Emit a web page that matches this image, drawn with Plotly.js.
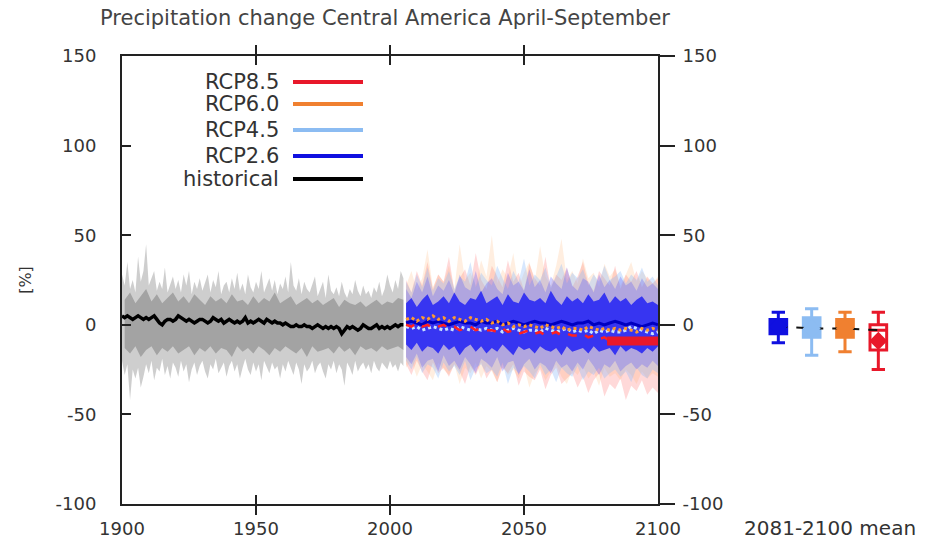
<!DOCTYPE html>
<html><head><meta charset="utf-8">
<script src="https://cdn.plot.ly/plotly-3.0.1.min.js"></script>
<style>html,body{margin:0;padding:0;background:#fff}#chart{width:925px;height:546px}</style>
</head><body><div id="chart"></div>
<script>
// ---------- DATA ----------
const histStart = 1900, histEnd = 2005;
const histMean = [
5,4,5,4,3,4,5,4,3,4,
3,4,5,3,1,0,2,3,3,2,
3,5,4,3,2,3,2,1,2,3,
3,2,1,2,4,3,2,3,1,2,
3,2,1,2,1,2,4,1,2,1,
2,3,2,1,3,2,1,2,1,1,
0,1,0,-1,-1,0,-1,-1,0,-1,
-1,-2,-1,0,-1,-2,-1,-2,-1,-2,
-1,-2,-5,-3,-1,-2,-1,-2,-3,-2,
0,-1,-2,-2,-1,0,-2,-1,-2,-1,
-2,-1,0,-1,0,0];
const histUpper = [
28,22,35,20,25,18,38,24,30,45,
22,26,30,19,24,20,32,18,22,27,
20,25,18,28,22,30,17,24,20,26,
19,23,28,18,25,21,30,17,22,24,
18,26,20,29,19,23,17,28,21,18,
24,20,30,18,22,26,19,25,17,23,
20,27,18,35,22,19,26,17,24,20,
18,22,27,16,20,24,15,28,19,17,
21,16,24,18,15,20,17,25,19,16,
22,17,19,15,21,18,24,16,20,28,
22,18,25,20,30,26];
const histLower = [
-20,-28,-22,-42,-25,-30,-24,-35,-29,-22,
-27,-20,-31,-24,-26,-19,-28,-23,-30,-21,
-24,-29,-20,-26,-22,-32,-25,-21,-28,-23,
-20,-26,-30,-22,-25,-19,-27,-24,-21,-29,
-23,-20,-26,-22,-30,-24,-19,-25,-28,-21,
-26,-22,-31,-20,-24,-27,-21,-25,-23,-30,
-22,-26,-20,-24,-28,-21,-25,-33,-22,-26,
-24,-20,-27,-23,-21,-26,-30,-22,-25,-20,
-27,-22,-25,-34,-21,-24,-28,-20,-26,-23,
-21,-25,-22,-27,-20,-24,-26,-21,-23,-25,
-20,-24,-22,-26,-21,-23];
// inner (dense) historical band, every 2 years 1901-2005
const histInnerUpper = [
14,18,12,16,20,13,17,12,15,18,
13,16,12,17,14,11,16,13,15,12,
17,13,14,11,16,12,15,13,18,12,
14,16,11,13,15,12,14,11,13,15,
10,14,12,11,13,10,12,14,11,13,
12,15,14];
const histInnerLower = [
-13,-16,-12,-18,-14,-12,-17,-13,-15,-12,
-16,-14,-12,-17,-13,-15,-12,-16,-13,-14,
-18,-12,-15,-13,-16,-12,-14,-17,-13,-15,
-12,-14,-16,-13,-18,-12,-15,-14,-13,-16,
-12,-15,-13,-17,-12,-14,-13,-15,-12,-14,
-13,-12,-14];

// scenarios, every 2 years 2006-2100
const rcp85Upper = [25,18,30,22,35,20,28,24, 38,19,26,31,22,40,25,20, 33,27,21,36,24,29,19,34, 26,22,38,20,28,25,32,21, 27,35,23,19,30,26,22,33, 20,28,24,30,21,27,23,26];
const rcp85Lower = [-22,-28,-20,-26,-31,-21,-27,-24, -29,-22,-26,-33,-23,-28,-21,-30, -25,-32,-24,-27,-22,-34,-26,-29, -31,-25,-36,-28,-24,-33,-30,-27, -35,-29,-38,-31,-27,-40,-33,-36, -30,-42,-34,-37,-31,-39,-35,-38];
const rcp60Upper = [22,30,19,26,42,21,28,24, 33,20,45,25,29,22,36,27, 50,23,31,26,40,21,29,35, 24,44,27,22,33,48,25,30, 23,37,26,29,21,34,27,31, 22,28,35,24,30,26,23,27];
const rcp60Lower = [-24,-20,-29,-22,-26,-31,-21,-25, -28,-22,-33,-24,-27,-21,-30,-23, -26,-32,-22,-28,-25,-30,-23,-35, -27,-24,-31,-26,-22,-29,-33,-25, -28,-23,-30,-26,-34,-24,-29,-27, -31,-25,-28,-33,-26,-30,-27,-29];
const rcp45Upper = [24,18,28,21,32,19,26,23, 30,20,27,24,35,21,29,25, 22,33,26,20,30,24,37,22, 28,25,32,21,27,34,23,29, 26,31,22,28,24,33,25,27, 30,23,28,25,32,24,27,22];
const rcp45Lower = [-20,-25,-18,-27,-22,-24,-30,-21, -26,-23,-28,-20,-31,-24,-22,-27, -25,-29,-21,-33,-24,-27,-23,-26, -30,-22,-28,-25,-32,-24,-27,-29, -23,-31,-26,-28,-24,-30,-27,-25, -29,-26,-32,-24,-28,-30,-25,-27];
const rcp26Upper = [20,15,24,18,27,16,22,19, 25,17,28,21,19,30,18,23, 26,20,17,29,22,24,19,31, 21,25,18,27,23,20,32,22, 19,26,24,18,28,21,25,20, 27,22,24,19,26,21,23,20];
const rcp26Lower = [-18,-22,-16,-24,-20,-19,-26,-17, -23,-20,-25,-18,-22,-27,-19,-21, -24,-18,-26,-21,-20,-28,-22,-19, -25,-21,-23,-27,-20,-24,-22,-26, -21,-25,-19,-23,-28,-22,-24,-20, -26,-23,-21,-25,-22,-24,-20,-23];
const rcp26InnerUpper = [12,15,10,14,17,11,13,16, 12,18,13,11,15,14,19,12, 14,16,11,17,13,12,18,14, 13,15,12,19,14,11,16,13, 15,12,17,13,14,18,12,16, 13,15,11,14,16,12,13,11];
const rcp26InnerLower = [-11,-14,-10,-15,-12,-13,-16,-11, -14,-12,-17,-13,-11,-15,-12,-16, -13,-15,-11,-14,-17,-12,-14,-13, -16,-12,-14,-15,-13,-17,-12,-15, -14,-13,-16,-12,-15,-14,-13,-17, -12,-15,-13,-14,-16,-13,-15,-12];
const rcp26Mean = [1,2,1,0,2,1,2,1, 0,1,2,1,1,0,2,1, 1,2,0,1,2,1,0,1, 2,1,1,0,1,2,1,0, 1,1,2,0,1,0,1,2, 1,0,1,0,-1,0,1,0];
const rcp45Mean = [-1,-2,-1,-3,-2,-1,-2,-3, -2,-3,-1,-2,-3,-2,-3,-2, -3,-2,-4,-3,-2,-3,-4,-3, -3,-4,-2,-3,-4,-3,-2,-4, -3,-4,-3,-5,-3,-4,-3,-4, -4,-3,-1,-2,-3,-4,-5,-4];
const rcp60Mean = [3,4,2,4,3,5,3,4, 2,4,3,2,4,3,2,3, 1,2,0,1,-1,0,-1,0, -1,-2,0,-1,-2,-1,-3,-2, -2,-3,-1,-2,-3,-2,-3,-2, -3,-2,-3,-4,-2,-3,-2,-3];
const rcp85Mean = [0,-1,1,-1,0,-2,-1,0, -2,-1,-3,-2,-1,-3,-2,-3, -3,-4,-2,-4,-3,-5,-4,-3, -5,-4,-6,-5,-4,-6,-5,-6, -6,-5,-7,-6,-8,-7,-9,-8, -9,-8,-10,-9,-8,-10,-9,-9];

// 2081-2100 mean panel
const boxCats   = ['RCP2.6','RCP4.5','RCP6.0','RCP8.5'];
const boxMean   = [-1, -2, -2, -9];
const boxMedian = [-1, -2, -2, -3];
const boxQ1     = [-5, -7, -7, -14];
const boxQ3     = [3, 4, 3, 0];
const boxLow    = [-10, -17, -15, -25];
const boxHigh   = [7, 9, 7, 7];

const legendNames = ['RCP8.5','RCP6.0','RCP4.5','RCP2.6','historical'];
const yTicks = [-100,-50,0,50,100,150];
const yTickText = ['-100','-50','0','50','100','150'];
const xTicks = [1900,1950,2000,2050,2100];

// ---------- STYLE ----------
const C = {rcp85:'#e8182a', rcp60:'#f08030', rcp45:'#8cbcf2', rcp26:'#1010e0', hist:'#000000'};
const boxColors = [C.rcp26, C.rcp45, C.rcp60, C.rcp85];
const legendColors = [C.rcp85, C.rcp60, C.rcp45, C.rcp26, C.hist];

const histYears = []; for (let y = histStart; y <= histEnd; y++) histYears.push(y);
const histYears2 = histInnerUpper.map((_, i) => histStart + 1 + 2*i);
const scenYears = rcp26Mean.map((_, i) => 2006 + 2*i);

function band(x, up, lo, fill) {
  return [
    {x:x, y:up, type:'scatter', mode:'lines', line:{width:0}, hoverinfo:'skip', showlegend:false},
    {x:x, y:lo, type:'scatter', mode:'lines', line:{width:0}, fill:'tonexty', fillcolor:fill, hoverinfo:'skip', showlegend:false}
  ];
}
function line(x, y, color, width, dash) {
  return {x:x, y:y, type:'scatter', mode:'lines', line:{color:color, width:width, dash:dash||'solid'}, hoverinfo:'skip', showlegend:false};
}

let traces = [];
traces = traces.concat(band(histYears, histUpper, histLower, 'rgba(165,165,165,0.55)'));
traces = traces.concat(band(histYears2, histInnerUpper, histInnerLower, 'rgba(140,140,140,0.65)'));
traces = traces.concat(band(scenYears, rcp85Upper, rcp85Lower, 'rgba(255,80,80,0.22)'));
traces = traces.concat(band(scenYears, rcp60Upper, rcp60Lower, 'rgba(255,170,100,0.20)'));
traces = traces.concat(band(scenYears, rcp45Upper, rcp45Lower, 'rgba(140,185,250,0.35)'));
traces = traces.concat(band(scenYears, rcp26Upper, rcp26Lower, 'rgba(60,60,255,0.25)'));
traces = traces.concat(band(scenYears, rcp26InnerUpper, rcp26InnerLower, 'rgba(25,25,245,0.80)'));
traces.push(line(scenYears, rcp26Mean, '#0000c0', 3));
traces.push(line(scenYears, rcp45Mean, '#c8e0ff', 3, 'dot'));
traces.push(line(scenYears, rcp60Mean, '#ff9a30', 3, 'dot'));
traces.push(line(scenYears, rcp85Mean, '#ff2020', 2.5, 'dash'));
traces.push(line([2081, 2100], [boxMean[3], boxMean[3]], C.rcp85, 9));
traces.push(line(histYears, histMean, '#000', 3.5));
traces.push({x:[], y:[], yaxis:'y2', type:'scatter', showlegend:false});

// mean panel
traces.push({x:boxCats, y:boxMedian, xaxis:'x2', yaxis:'y', type:'scatter', mode:'lines',
  line:{color:'#111', width:2, dash:'dash'}, hoverinfo:'skip', showlegend:false});
boxCats.forEach((c, i) => {
  traces.push({type:'box', x:[c], xaxis:'x2', yaxis:'y', q1:[boxQ1[i]], median:[boxMedian[i]], q3:[boxQ3[i]],
    lowerfence:[boxLow[i]], upperfence:[boxHigh[i]], width:0.5, whiskerwidth:0.8,
    line:{color:boxColors[i], width:3}, fillcolor: i === 3 ? '#ffffff' : boxColors[i],
    hoverinfo:'skip', showlegend:false});
});
traces.push({x:boxCats, y:boxMean, xaxis:'x2', yaxis:'y', type:'scatter', mode:'markers',
  marker:{symbol:'diamond', size:14, color:boxColors}, hoverinfo:'skip', showlegend:false});

// ---------- LAYOUT ----------
const W = 925, H = 546, ML = 122, MR = 5, MT = 56, MB = 42;
const PW = W - ML - MR, PH = H - MT - MB;
const px = x => (x - ML) / PW;
const py = y => (H - MB - y) / PH;

const FAM = 'DejaVu Sans, Liberation Sans, Arial, sans-serif';
const font = {family:FAM, size:18, color:'#333'};
const legY = [82, 104, 130, 156, 179];
const shapes = [], annotations = [];
legendNames.forEach((n, i) => {
  annotations.push({xref:'paper', yref:'paper', x:px(281), y:py(legY[i]), xanchor:'right', yanchor:'middle',
    text:n, showarrow:false, font:{family:FAM, size:21, color:'#333'}});
  shapes.push({type:'line', xref:'paper', yref:'paper', x0:px(293), x1:px(363), y0:py(legY[i]), y1:py(legY[i]),
    line:{color:legendColors[i], width:4}});
});
annotations.push({xref:'x2 domain', yref:'paper', x:0.5, y:py(528), xanchor:'center', yanchor:'middle',
  text:'2081-2100 mean', showarrow:false, font:{family:FAM, size:20, color:'#333'}});

const layout = {
  width:W, height:H, margin:{l:ML, r:MR, t:MT, b:MB},
  paper_bgcolor:'#fff', plot_bgcolor:'rgba(0,0,0,0)', font:font, showlegend:false,
  title:{text:'Precipitation change Central America April-September', xref:'container', x:385/W, xanchor:'center',
    y:1 - 18/H, yanchor:'middle', font:{family:FAM, size:21, color:'#444'}},
  xaxis:{domain:[0, px(658)], range:[1900, 2100], tickvals:xTicks, ticks:'inside', ticklen:9, tickwidth:2,
    tickcolor:'#222', showline:true, linecolor:'#222', linewidth:2, mirror:'allticks', showgrid:false,
    zeroline:false, ticklabelstandoff:7, tickfont:{size:18}},
  xaxis2:{domain:[px(760), px(900)], range:[-0.55, 3.65], type:'category', anchor:'y', showline:false,
    showticklabels:false, ticks:'', showgrid:false, zeroline:false},
  yaxis:{range:[-100, 150], tickvals:yTicks, ticktext:yTickText, ticks:'inside', ticklen:9, tickwidth:2, tickcolor:'#222',
    showline:true, linecolor:'#222', linewidth:2, showgrid:false, zeroline:false, ticklabelstandoff:20,
    tickfont:{size:18}, title:{text:'[%]', standoff:20, font:{size:16}}},
  yaxis2:{range:[-100, 150], tickvals:yTicks, ticktext:yTickText, overlaying:'y', side:'right', anchor:'x', ticks:'outside',
    ticklen:15, tickwidth:2, tickcolor:'#222', showline:true, linecolor:'#222', linewidth:2,
    showgrid:false, zeroline:false, ticklabelstandoff:4, tickfont:{size:18}},
  shapes:shapes, annotations:annotations
};

Plotly.newPlot('chart', traces, layout, {staticPlot:true, displayModeBar:false});
</script>
</body></html>
